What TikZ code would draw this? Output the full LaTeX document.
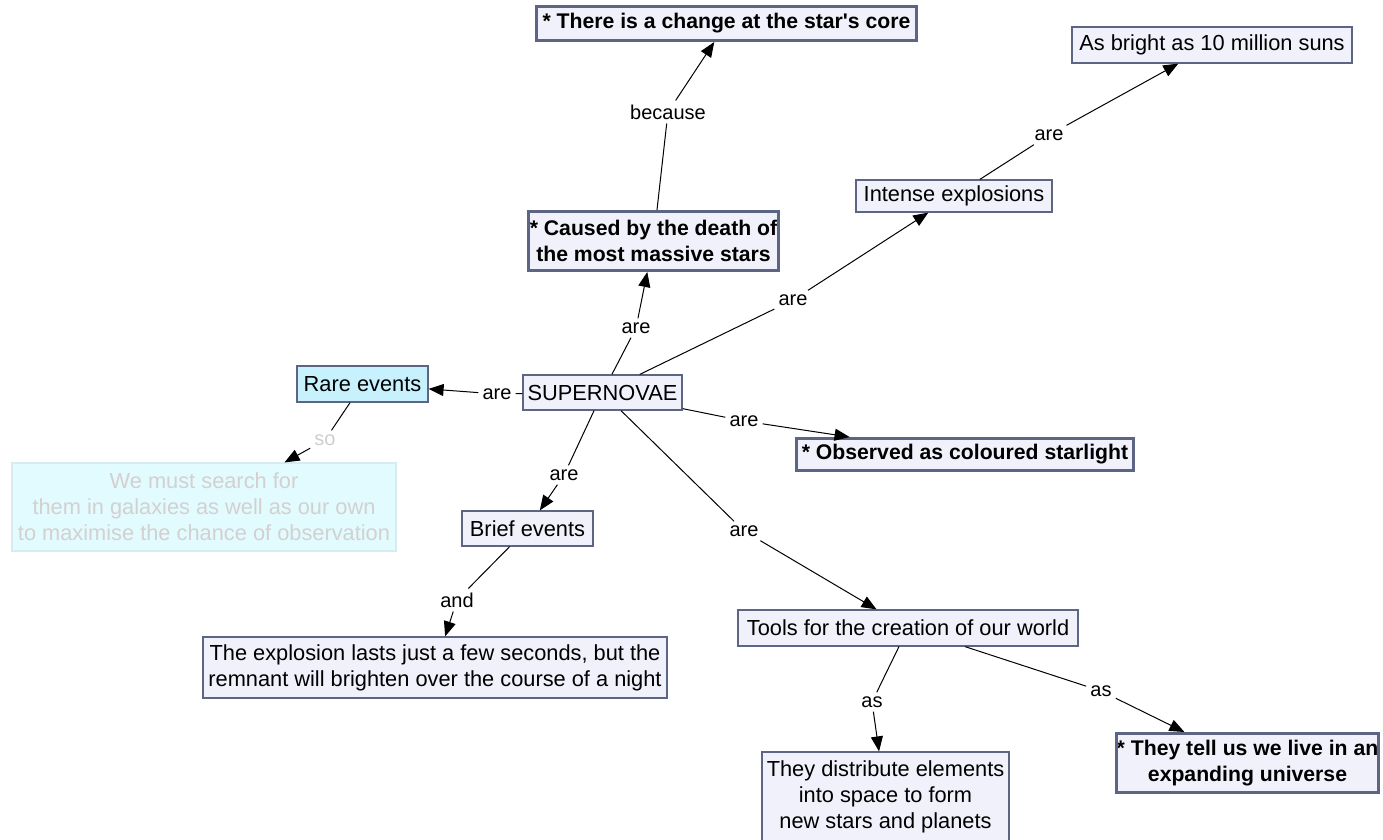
\documentclass[tikz,border=0pt]{standalone}
\usepackage{fontspec}
\setmainfont{Liberation Sans}
\usetikzlibrary{arrows.meta}
\definecolor{bordc}{RGB}{92,102,132}
\definecolor{boxfill}{RGB}{241,241,252}
\definecolor{rarefill}{RGB}{198,241,253}
\definecolor{fadefill}{RGB}{226,251,254}
\definecolor{fadebord}{RGB}{214,236,240}
\definecolor{fadetext}{RGB}{212,208,208}
\definecolor{fadelbl}{RGB}{205,205,205}
\tikzset{
 base/.style={rectangle, inner sep=0pt, align=center, font=\fontsize{21.8}{26}\selectfont, draw=bordc, fill=boxfill, line width=1.2pt},
 thickb/.style={base, line width=3pt, font=\fontsize{21.2}{26}\selectfont\bfseries},
 cliptext/.style={inner sep=0pt, align=center, font=\fontsize{21.2}{26}\selectfont\bfseries},
 lbl/.style={inner sep=4pt, font=\fontsize{20}{24}\selectfont},
 conn/.style={line width=1pt, draw=black},
 arr/.style={conn, -{Triangle[length=15pt,width=12pt]}},
}
\begin{document}
\begin{tikzpicture}[x=1pt,y=-1pt]
\useasboundingbox (0,0) rectangle (1383,839);
% boxes
\node[thickb, minimum width=380, minimum height=34] (core) at (726.5,23.5) {* There is a change at the star\textquotesingle s core};
\node[base, minimum width=280, minimum height=36] (suns) at (1212,45) {As bright as 10 million suns};
\node[base, minimum width=196, minimum height=32] (intense) at (954,196) {Intense explosions};
\node[thickb, minimum width=250, minimum height=59,
  path picture={\node[cliptext] (causedtxt) at (path picture bounding box.center) {* Caused by the death of\\the most massive stars};}] (caused) at (653.5,241) {};
\node[base, minimum width=159, minimum height=35] (super) at (602.5,392.5) {SUPERNOVAE};
\node[base, fill=rarefill, minimum width=131, minimum height=36] (rare) at (362.5,384) {Rare events};
\node[base, fill=fadefill, draw=fadebord, text=fadetext, minimum width=384, minimum height=88] (faded) at (204,507) {We must search for\\them in galaxies as well as our own\\to maximise the chance of observation};
\node[thickb, minimum width=337, minimum height=32] (observed) at (965,454.5) {* Observed as coloured starlight};
\node[base, minimum width=131, minimum height=35] (brief) at (527.5,528.5) {Brief events};
\node[base, minimum width=464, minimum height=61] (explosion) at (435,667.5) {The explosion lasts just a few seconds, but the\\remnant will brighten over the course of a night};
\node[base, minimum width=340, minimum height=36] (tools) at (908,628) {Tools for the creation of our world};
\node[base, minimum width=247, minimum height=90] (distribute) at (885.5,797) {They distribute elements\\into space to form\\new stars and planets};
\node[thickb, minimum width=262, minimum height=59,
  path picture={\node[cliptext] (universetxt) at (path picture bounding box.center) {* They tell us we live in an\\expanding universe};}] (universe) at (1247.5,763) {};
% linking phrases
\node[lbl] (lbecause) at (668,112) {because};
\node[lbl] (l1) at (1049,135) {are};
\node[lbl] (l2) at (793,300) {are};
\node[lbl] (l3) at (636,328) {are};
\node[lbl] (l4) at (497,394) {are};
\node[lbl, text=fadelbl] (lso) at (325,440) {so};
\node[lbl] (l5) at (744,421) {are};
\node[lbl] (l6) at (564,475) {are};
\node[lbl] (l7) at (744,531) {are};
\node[lbl] (land) at (457,600) {and};
\node[lbl] (las1) at (872,702) {as};
\node[lbl] (las2) at (1101,691) {as};
% connectors
\draw[conn] (super) -- (l3); \draw[arr] (l3) -- (caused);
\draw[conn] (caused) -- (lbecause); \draw[arr] (lbecause) -- (core);
\draw[conn] (super) -- (l2); \draw[arr] (l2) -- (intense);
\draw[conn] (intense) -- (l1); \draw[arr] (l1) -- (suns);
\draw[conn] (super) -- (l4); \draw[arr] (l4) -- (rare);
\draw[conn] (rare) -- (lso); \draw[arr] (lso) -- (faded);
\draw[conn] (super) -- (l5); \draw[arr] (l5) -- (observed);
\draw[conn] (super) -- (l6); \draw[arr] (l6) -- (brief);
\draw[conn] (brief) -- (land); \draw[arr] (land) -- (explosion);
\draw[conn] (super) -- (l7); \draw[arr] (l7) -- (tools);
\draw[conn] (tools) -- (las1); \draw[arr] (las1) -- (distribute);
\draw[conn] (tools) -- (las2); \draw[arr] (las2) -- (universe);
\end{tikzpicture}
\end{document}
